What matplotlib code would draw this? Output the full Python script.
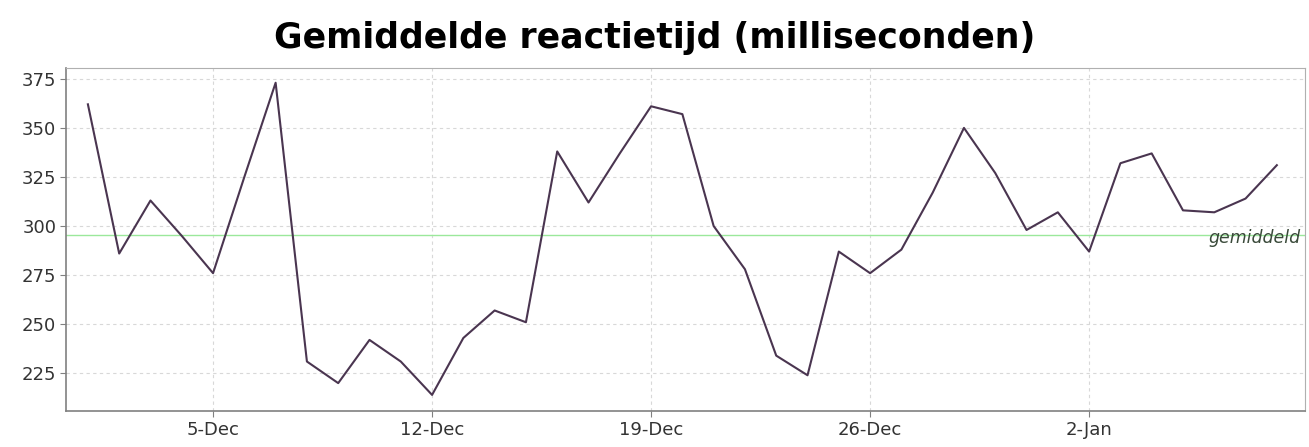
import numpy as np
import pandas as pd
import matplotlib
matplotlib.use("Agg")
import matplotlib.pyplot as plt
import matplotlib.dates as mdates

# dagelijkse gemiddelde reactietijd (ms), 1 dec t/m 8 jan
dates = pd.date_range("2008-12-01", "2009-01-08", freq="D")
values = [362, 286, 313, 295, 276, 325, 373, 231, 220, 242,
          231, 214, 243, 257, 251, 338, 312, 337, 361, 357,
          300, 278, 234, 224, 287, 276, 288, 317, 350, 327,
          298, 307, 287, 332, 337, 308, 307, 314, 331]
gemiddeld = 295.4

yticks = [225, 250, 275, 300, 325, 350, 375]
xticks = pd.to_datetime(["2008-12-05", "2008-12-12", "2008-12-19",
                         "2008-12-26", "2009-01-02"])
xtick_labels = ["5-Dec", "12-Dec", "19-Dec", "26-Dec", "2-Jan"]
title = "Gemiddelde reactietijd (milliseconden)"

fig = plt.figure(figsize=(13.09, 4.47), dpi=100)
ax = fig.add_axes([66 / 1309, 1 - 411 / 447, (1305 - 66) / 1309, (411 - 68) / 447])

ax.plot(dates, values, color="#4a3550", lw=1.5, zorder=3)
ax.axhline(gemiddeld, color="#9be89b", lw=1.0, zorder=2)
ax.text(dates[-1] + pd.Timedelta(days=0.75), gemiddeld - 1.5, "gemiddeld",
        ha="right", va="center", style="italic", fontsize=12.5,
        color="#3a4a3a", zorder=4)

ax.set_xlim(dates[0] - pd.Timedelta(days=0.7), dates[-1] + pd.Timedelta(days=0.9))
ax.set_ylim(205.8, 380.5)
ax.set_yticks(yticks)
ax.set_xticks(xticks)
ax.set_xticklabels(xtick_labels)

ax.grid(True, color="#d8d8d8", lw=0.8, ls=(0, (3, 3)))
ax.set_axisbelow(True)
for side in ["top", "right"]:
    ax.spines[side].set_color("#b0b0b0")
for side in ["left", "bottom"]:
    ax.spines[side].set_color("#808080")
    ax.spines[side].set_linewidth(1.2)
ax.tick_params(direction="out", length=4, color="#808080",
               labelsize=13, labelcolor="#333333", pad=3)

fig.text(0.5, 1 - 38 / 447, title, ha="center", va="center",
         fontsize=25, fontweight="bold", fontfamily="DejaVu Sans")

fig.savefig("out.png", dpi=100)
